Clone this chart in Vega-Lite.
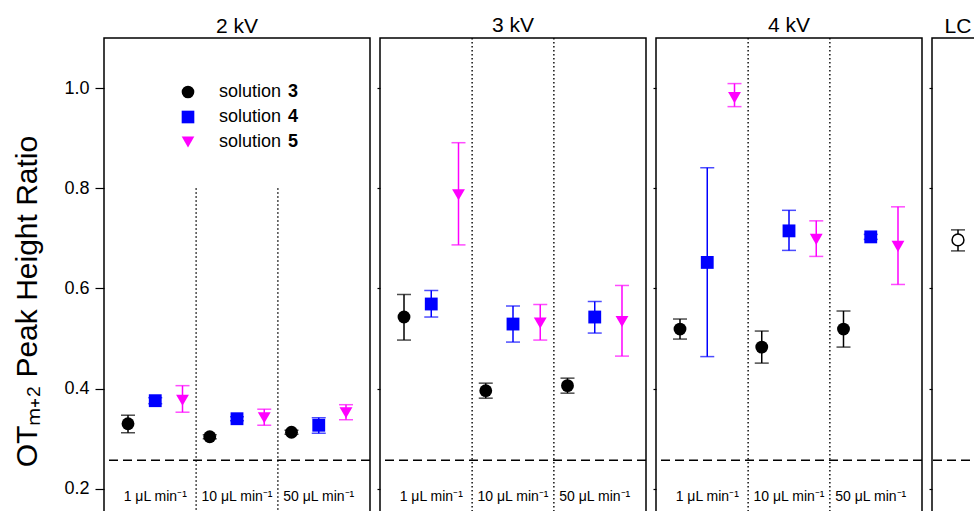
{
  "$schema": "https://vega.github.io/schema/vega-lite/v6.json",
  "background": "white",
  "padding": {"left": 12, "top": 14, "right": 0, "bottom": 0},
  "spacing": 3,
  "config": {
    "font": "Liberation Sans",
    "view": {"stroke": "#000", "strokeWidth": 1.5},
    "axis": {"domain": false, "grid": false, "tickColor": "#000", "labelColor": "#000", "titleColor": "#000", "tickWidth": 1.2},
    "title": {"fontSize": 21, "fontWeight": "normal", "color": "#000", "offset": 0, "dy": 3},
    "text": {"font": "Liberation Sans"}
  },
  "resolve": {"scale": {"x": "independent", "y": "independent", "xOffset": "independent", "color": "independent", "shape": "independent", "stroke": "independent", "fill": "independent", "opacity": "independent"}},
  "datasets": {
    "pts": [
      {"voltage": "2 kV", "flow": "1 μL min⁻¹", "solution": "3", "mean": 0.330, "lo": 0.312, "hi": 0.347},
      {"voltage": "2 kV", "flow": "1 μL min⁻¹", "solution": "4", "mean": 0.376, "lo": 0.370, "hi": 0.382},
      {"voltage": "2 kV", "flow": "1 μL min⁻¹", "solution": "5", "mean": 0.377, "lo": 0.353, "hi": 0.406},
      {"voltage": "2 kV", "flow": "10 μL min⁻¹", "solution": "3", "mean": 0.304, "lo": 0.300, "hi": 0.308},
      {"voltage": "2 kV", "flow": "10 μL min⁻¹", "solution": "4", "mean": 0.340, "lo": 0.336, "hi": 0.344},
      {"voltage": "2 kV", "flow": "10 μL min⁻¹", "solution": "5", "mean": 0.342, "lo": 0.327, "hi": 0.359},
      {"voltage": "2 kV", "flow": "50 μL min⁻¹", "solution": "3", "mean": 0.313, "lo": 0.309, "hi": 0.317},
      {"voltage": "2 kV", "flow": "50 μL min⁻¹", "solution": "4", "mean": 0.327, "lo": 0.311, "hi": 0.342},
      {"voltage": "2 kV", "flow": "50 μL min⁻¹", "solution": "5", "mean": 0.352, "lo": 0.338, "hi": 0.368},
      {"voltage": "3 kV", "flow": "1 μL min⁻¹", "solution": "3", "mean": 0.543, "lo": 0.497, "hi": 0.588},
      {"voltage": "3 kV", "flow": "1 μL min⁻¹", "solution": "4", "mean": 0.569, "lo": 0.543, "hi": 0.596},
      {"voltage": "3 kV", "flow": "1 μL min⁻¹", "solution": "5", "mean": 0.787, "lo": 0.687, "hi": 0.891},
      {"voltage": "3 kV", "flow": "10 μL min⁻¹", "solution": "3", "mean": 0.396, "lo": 0.381, "hi": 0.411},
      {"voltage": "3 kV", "flow": "10 μL min⁻¹", "solution": "4", "mean": 0.529, "lo": 0.493, "hi": 0.565},
      {"voltage": "3 kV", "flow": "10 μL min⁻¹", "solution": "5", "mean": 0.531, "lo": 0.497, "hi": 0.568},
      {"voltage": "3 kV", "flow": "50 μL min⁻¹", "solution": "3", "mean": 0.406, "lo": 0.391, "hi": 0.421},
      {"voltage": "3 kV", "flow": "50 μL min⁻¹", "solution": "4", "mean": 0.543, "lo": 0.511, "hi": 0.574},
      {"voltage": "3 kV", "flow": "50 μL min⁻¹", "solution": "5", "mean": 0.534, "lo": 0.465, "hi": 0.606},
      {"voltage": "4 kV", "flow": "1 μL min⁻¹", "solution": "3", "mean": 0.519, "lo": 0.499, "hi": 0.539},
      {"voltage": "4 kV", "flow": "1 μL min⁻¹", "solution": "4", "mean": 0.652, "lo": 0.464, "hi": 0.841},
      {"voltage": "4 kV", "flow": "1 μL min⁻¹", "solution": "5", "mean": 0.981, "lo": 0.963, "hi": 1.009},
      {"voltage": "4 kV", "flow": "10 μL min⁻¹", "solution": "3", "mean": 0.483, "lo": 0.451, "hi": 0.515},
      {"voltage": "4 kV", "flow": "10 μL min⁻¹", "solution": "4", "mean": 0.715, "lo": 0.676, "hi": 0.756},
      {"voltage": "4 kV", "flow": "10 μL min⁻¹", "solution": "5", "mean": 0.698, "lo": 0.664, "hi": 0.735},
      {"voltage": "4 kV", "flow": "50 μL min⁻¹", "solution": "3", "mean": 0.519, "lo": 0.483, "hi": 0.555},
      {"voltage": "4 kV", "flow": "50 μL min⁻¹", "solution": "4", "mean": 0.703, "lo": 0.698, "hi": 0.708},
      {"voltage": "4 kV", "flow": "50 μL min⁻¹", "solution": "5", "mean": 0.684, "lo": 0.608, "hi": 0.763}
    ],
    "lc": [{"method": "LC", "mean": 0.697, "lo": 0.675, "hi": 0.717}],
    "flows": [{"flow": "1 μL min⁻¹"}, {"flow": "10 μL min⁻¹"}, {"flow": "50 μL min⁻¹"}],
    "baseline": [{"ref": 0.257}]
  },
  "hconcat": [
    {
      "width": 266, "height": 526,
      "title": "2 kV",
      "layer": [
        {"data": {"name": "baseline"}, "mark": {"type": "rule", "strokeDash": [9, 5], "strokeWidth": 1.5, "color": "#000"},
         "encoding": {"y": {"field": "ref", "type": "quantitative", "scale": {"domain": [0.05, 1.1], "nice": false, "zero": false}, "axis": {"title": "OTₘ₊₂ Peak Height Ratio", "values": [0.2, 0.4, 0.6, 0.8, 1.0], "format": ".1f", "tickSize": 9, "labelPadding": 6, "labelFontSize": 18, "titleFontSize": 30, "titleFontWeight": "normal", "titlePadding": 21}}}},
        {"data": {"name": "flows"}, "transform": [{"filter": "datum.flow != '1 μL min⁻¹'"}], "mark": {"type": "rule", "strokeDash": [1.5, 2.5], "strokeWidth": 1.4, "color": "#000"},
         "encoding": {"x": {"field": "flow", "type": "nominal", "bandPosition": 0, "scale": {"domain": ["1 μL min⁻¹", "10 μL min⁻¹", "50 μL min⁻¹"], "paddingInner": 0, "paddingOuter": 0.127}, "axis": null},
                      "y": {"datum": 0.8}, "y2": {"datum": 0.05}}},
        {"data": {"name": "flows"}, "mark": {"type": "text", "fontSize": 14, "baseline": "middle", "color": "#000"},
         "encoding": {"x": {"field": "flow", "type": "nominal", "axis": null}, "y": {"datum": 0.184}, "text": {"field": "flow"}}},
        {"data": {"name": "pts"}, "transform": [{"filter": "datum.voltage == '2 kV'"}],
         "mark": {"type": "rule", "strokeWidth": 1.5},
         "encoding": {"x": {"field": "flow", "type": "nominal", "axis": null},
                      "xOffset": {"field": "solution", "type": "nominal", "scale": {"domain": ["3", "4", "5"], "paddingInner": 0, "paddingOuter": 0}},
                      "y": {"field": "lo", "type": "quantitative"}, "y2": {"field": "hi"},
                      "stroke": {"field": "solution", "type": "nominal", "scale": {"domain": ["4", "3", "5"], "range": ["#0000ff", "#000000", "#ff00ff"]}, "legend": null}}},
        {"data": {"name": "pts"}, "transform": [{"filter": "datum.voltage == '2 kV'"}],
         "mark": {"type": "tick", "orient": "horizontal", "size": 14, "thickness": 1.5},
         "encoding": {"x": {"field": "flow", "type": "nominal", "axis": null},
                      "xOffset": {"field": "solution", "type": "nominal"},
                      "y": {"field": "lo", "type": "quantitative"},
                      "fill": {"field": "solution", "type": "nominal", "scale": {"domain": ["5", "4", "3"], "range": ["#ff00ff", "#0000ff", "#000000"]}, "legend": null}}},
        {"data": {"name": "pts"}, "transform": [{"filter": "datum.voltage == '2 kV'"}],
         "mark": {"type": "tick", "orient": "horizontal", "size": 14, "thickness": 1.5},
         "encoding": {"x": {"field": "flow", "type": "nominal", "axis": null},
                      "xOffset": {"field": "solution", "type": "nominal"},
                      "y": {"field": "hi", "type": "quantitative"},
                      "fill": {"field": "solution", "type": "nominal", "legend": null}}},
        {"data": {"name": "pts"}, "transform": [{"filter": "datum.voltage == '2 kV'"}],
         "mark": {"type": "point", "filled": true, "opacity": 1, "size": 165},
         "encoding": {"x": {"field": "flow", "type": "nominal", "axis": null},
                      "xOffset": {"field": "solution", "type": "nominal"},
                      "y": {"field": "mean", "type": "quantitative"},
                      "color": {"field": "solution", "type": "nominal", "scale": {"domain": ["3", "4", "5"], "range": ["#000000", "#0000ff", "#ff00ff"]}, "legend": {"orient": "none", "legendX": 75, "legendY": 45, "padding": 0, "title": null, "labelFontSize": 18, "labelColor": "#000", "labelExpr": "'solution'", "symbolSize": 160, "symbolStrokeWidth": 0, "rowPadding": 7, "labelOffset": 22}},
                      "shape": {"field": "solution", "type": "nominal", "scale": {"domain": ["3", "4", "5"], "range": ["circle", "square", "triangle-down"]}},
                      "opacity": {"field": "solution", "type": "nominal", "scale": {"type": "ordinal", "domain": ["3", "4", "5", "6"], "range": [1, 1, 1, 1]}, "legend": {"orient": "none", "legendX": 166, "legendY": 45, "padding": 0, "title": null, "values": ["3", "4", "5"], "labelFontSize": 18, "labelFontWeight": "bold", "labelColor": "#000", "symbolSize": 0.5, "symbolFillColor": "#ffffff", "symbolStrokeColor": "#ffffff", "symbolStrokeWidth": 0, "symbolOpacity": 0, "rowPadding": 7, "labelOffset": 0}}}}
      ]
    },
    {
      "width": 266, "height": 526,
      "title": "3 kV",
      "data": {"name": "pts"},
      "transform": [{"filter": "datum.voltage == '3 kV'"}],
      "layer": [
        {"data": {"name": "baseline"}, "mark": {"type": "rule", "strokeDash": [9, 5], "strokeWidth": 1.5, "color": "#000"},
         "encoding": {"y": {"field": "ref", "type": "quantitative", "scale": {"domain": [0.05, 1.1], "nice": false, "zero": false}, "axis": {"title": null, "labels": false, "values": [0.2, 0.4, 0.6, 0.8, 1.0], "tickSize": 3}}}},
        {"data": {"name": "flows"}, "transform": [{"filter": "datum.flow != '1 μL min⁻¹'"}], "mark": {"type": "rule", "strokeDash": [1.5, 2.5], "strokeWidth": 1.4, "color": "#000"},
         "encoding": {"x": {"field": "flow", "type": "nominal", "bandPosition": 0, "scale": {"domain": ["1 μL min⁻¹", "10 μL min⁻¹", "50 μL min⁻¹"], "paddingInner": 0, "paddingOuter": 0.127}, "axis": null}}},
        {"data": {"name": "flows"}, "mark": {"type": "text", "fontSize": 14, "baseline": "middle", "color": "#000"},
         "encoding": {"x": {"field": "flow", "type": "nominal", "axis": null}, "y": {"datum": 0.184}, "text": {"field": "flow"}}},
        {"mark": {"type": "rule", "strokeWidth": 1.5},
         "encoding": {"x": {"field": "flow", "type": "nominal", "axis": null},
                      "xOffset": {"field": "solution", "type": "nominal", "scale": {"domain": ["3", "4", "5"], "paddingInner": 0, "paddingOuter": 0}},
                      "y": {"field": "lo", "type": "quantitative"}, "y2": {"field": "hi"},
                      "stroke": {"field": "solution", "type": "nominal", "scale": {"domain": ["3", "4", "5"], "range": ["#000000", "#0000ff", "#ff00ff"]}, "legend": null}}},
        {"mark": {"type": "tick", "orient": "horizontal", "size": 14, "thickness": 1.5},
         "encoding": {"x": {"field": "flow", "type": "nominal", "axis": null},
                      "xOffset": {"field": "solution", "type": "nominal"},
                      "y": {"field": "lo", "type": "quantitative"},
                      "fill": {"field": "solution", "type": "nominal", "scale": {"domain": ["3", "4", "5"], "range": ["#000000", "#0000ff", "#ff00ff"]}, "legend": null}}},
        {"mark": {"type": "tick", "orient": "horizontal", "size": 14, "thickness": 1.5},
         "encoding": {"x": {"field": "flow", "type": "nominal", "axis": null},
                      "xOffset": {"field": "solution", "type": "nominal"},
                      "y": {"field": "hi", "type": "quantitative"},
                      "fill": {"field": "solution", "type": "nominal", "legend": null}}},
        {"mark": {"type": "point", "filled": true, "opacity": 1, "size": 165},
         "encoding": {"x": {"field": "flow", "type": "nominal", "axis": null},
                      "xOffset": {"field": "solution", "type": "nominal"},
                      "y": {"field": "mean", "type": "quantitative"},
                      "color": {"field": "solution", "type": "nominal", "scale": {"domain": ["3", "4", "5"], "range": ["#000000", "#0000ff", "#ff00ff"]}, "legend": null},
                      "shape": {"field": "solution", "type": "nominal", "scale": {"domain": ["3", "4", "5"], "range": ["circle", "square", "triangle-down"]}, "legend": null}}}
      ]
    },
    {
      "width": 266, "height": 526,
      "title": "4 kV",
      "data": {"name": "pts"},
      "transform": [{"filter": "datum.voltage == '4 kV'"}],
      "layer": [
        {"data": {"name": "baseline"}, "mark": {"type": "rule", "strokeDash": [9, 5], "strokeWidth": 1.5, "color": "#000"},
         "encoding": {"y": {"field": "ref", "type": "quantitative", "scale": {"domain": [0.05, 1.1], "nice": false, "zero": false}, "axis": {"title": null, "labels": false, "values": [0.2, 0.4, 0.6, 0.8, 1.0], "tickSize": 3}}}},
        {"data": {"name": "flows"}, "transform": [{"filter": "datum.flow != '1 μL min⁻¹'"}], "mark": {"type": "rule", "strokeDash": [1.5, 2.5], "strokeWidth": 1.4, "color": "#000"},
         "encoding": {"x": {"field": "flow", "type": "nominal", "bandPosition": 0, "scale": {"domain": ["1 μL min⁻¹", "10 μL min⁻¹", "50 μL min⁻¹"], "paddingInner": 0, "paddingOuter": 0.127}, "axis": null}}},
        {"data": {"name": "flows"}, "mark": {"type": "text", "fontSize": 14, "baseline": "middle", "color": "#000"},
         "encoding": {"x": {"field": "flow", "type": "nominal", "axis": null}, "y": {"datum": 0.184}, "text": {"field": "flow"}}},
        {"mark": {"type": "rule", "strokeWidth": 1.5},
         "encoding": {"x": {"field": "flow", "type": "nominal", "axis": null},
                      "xOffset": {"field": "solution", "type": "nominal", "scale": {"domain": ["3", "4", "5"], "paddingInner": 0, "paddingOuter": 0}},
                      "y": {"field": "lo", "type": "quantitative"}, "y2": {"field": "hi"},
                      "stroke": {"field": "solution", "type": "nominal", "scale": {"domain": ["3", "4", "5"], "range": ["#000000", "#0000ff", "#ff00ff"]}, "legend": null}}},
        {"mark": {"type": "tick", "orient": "horizontal", "size": 14, "thickness": 1.5},
         "encoding": {"x": {"field": "flow", "type": "nominal", "axis": null},
                      "xOffset": {"field": "solution", "type": "nominal"},
                      "y": {"field": "lo", "type": "quantitative"},
                      "fill": {"field": "solution", "type": "nominal", "scale": {"domain": ["3", "4", "5"], "range": ["#000000", "#0000ff", "#ff00ff"]}, "legend": null}}},
        {"mark": {"type": "tick", "orient": "horizontal", "size": 14, "thickness": 1.5},
         "encoding": {"x": {"field": "flow", "type": "nominal", "axis": null},
                      "xOffset": {"field": "solution", "type": "nominal"},
                      "y": {"field": "hi", "type": "quantitative"},
                      "fill": {"field": "solution", "type": "nominal", "legend": null}}},
        {"mark": {"type": "point", "filled": true, "opacity": 1, "size": 165},
         "encoding": {"x": {"field": "flow", "type": "nominal", "axis": null},
                      "xOffset": {"field": "solution", "type": "nominal"},
                      "y": {"field": "mean", "type": "quantitative"},
                      "color": {"field": "solution", "type": "nominal", "scale": {"domain": ["3", "4", "5"], "range": ["#000000", "#0000ff", "#ff00ff"]}, "legend": null},
                      "shape": {"field": "solution", "type": "nominal", "scale": {"domain": ["3", "4", "5"], "range": ["circle", "square", "triangle-down"]}, "legend": null}}}
      ]
    },
    {
      "width": 52, "height": 526,
      "title": "LC",
      "data": {"name": "lc"},
      "layer": [
        {"data": {"name": "baseline"}, "mark": {"type": "rule", "strokeDash": [9, 5], "strokeWidth": 1.5, "color": "#000"},
         "encoding": {"y": {"field": "ref", "type": "quantitative", "scale": {"domain": [0.05, 1.1], "nice": false, "zero": false}, "axis": {"title": null, "labels": false, "values": [0.2, 0.4, 0.6, 0.8, 1.0], "tickSize": 3}}}},
        {"mark": {"type": "rule", "strokeWidth": 1.5, "color": "#000"},
         "encoding": {"x": {"field": "method", "type": "nominal", "scale": {"paddingInner": 0, "paddingOuter": 0}, "axis": null},
                      "y": {"field": "lo", "type": "quantitative"}, "y2": {"field": "hi"}}},
        {"mark": {"type": "tick", "orient": "horizontal", "size": 14, "thickness": 1.5, "color": "#000"},
         "encoding": {"x": {"field": "method", "type": "nominal", "axis": null},
                      "y": {"field": "lo", "type": "quantitative"}}},
        {"mark": {"type": "tick", "orient": "horizontal", "size": 14, "thickness": 1.5, "color": "#000"},
         "encoding": {"x": {"field": "method", "type": "nominal", "axis": null},
                      "y": {"field": "hi", "type": "quantitative"}}},
        {"mark": {"type": "point", "filled": false, "fill": "#ffffff", "fillOpacity": 1, "stroke": "#000", "strokeWidth": 1.5, "opacity": 1, "size": 140, "shape": "circle"},
         "encoding": {"x": {"field": "method", "type": "nominal", "axis": null},
                      "y": {"field": "mean", "type": "quantitative"}}}
      ]
    }
  ]
}
